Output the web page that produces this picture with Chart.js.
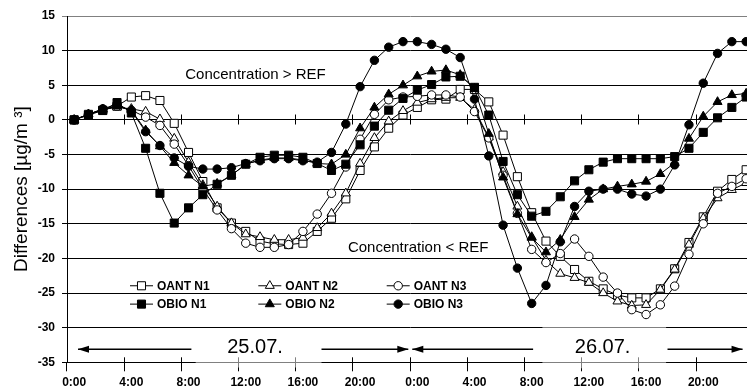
<!DOCTYPE html>
<html>
<head>
<meta charset="utf-8">
<script src="https://cdn.jsdelivr.net/npm/chart.js@4.4.1/dist/chart.umd.min.js"></script>
<style>
  html, body { margin: 0; padding: 0; background: #fff; overflow: hidden; width: 747px; height: 390px; }
  #wrap { width: 760px; height: 390px; }
</style>
</head>
<body>
<div id="wrap"><canvas id="diffChart" width="760" height="390"></canvas></div>
<script>
// hourly categories over two days (25.07. and 26.07.)
const hours = [
  '0:00', '1:00', '2:00', '3:00', '4:00', '5:00', '6:00', '7:00', '8:00', '9:00', '10:00', '11:00',
  '12:00', '13:00', '14:00', '15:00', '16:00', '17:00', '18:00', '19:00', '20:00', '21:00', '22:00', '23:00',
  '0:00', '1:00', '2:00', '3:00', '4:00', '5:00', '6:00', '7:00', '8:00', '9:00', '10:00', '11:00',
  '12:00', '13:00', '14:00', '15:00', '16:00', '17:00', '18:00', '19:00', '20:00', '21:00', '22:00', '23:00'
];

const oantN1 = [0, 0.8, 1.4, 2.0, 3.3, 3.5, 2.8, -0.5, -4.7, -8.9, -12.7, -14.9,
  -16.1, -17.5, -17.9, -18.0, -17.8, -16.1, -14.2, -11.4, -7.3, -3.9, -1.2, 0.7,
  1.8, 2.9, 3.0, 4.4, 4.4, 2.6, -2.2, -8.2, -13.4, -17.5, -19.7, -21.6,
  -23.3, -24.4, -25.3, -25.7, -25.7, -24.4, -21.5, -17.7, -14.0, -10.3, -8.6, -7.2];
const oantN2 = [0, 0.8, 1.5, 1.8, 1.6, 1.2, 0.1, -2.7, -6.1, -9.4, -12.5, -14.9,
  -16.5, -16.9, -17.3, -17.3, -17.0, -15.6, -13.5, -10.6, -6.3, -2.6, -0.2, 1.3,
  2.5, 3.0, 3.2, 3.2, 1.5, -2.5, -7.5, -12.5, -16.9, -20.3, -22.2, -22.8,
  -23.5, -25.0, -26.2, -26.8, -26.7, -24.5, -21.6, -18.0, -14.2, -11.3, -10.1, -9.1];
const oantN3 = [0, 0.8, 1.5, 2.0, 1.4, 0.4, -0.8, -3.5, -6.6, -10.0, -13.0, -15.7,
  -17.8, -18.4, -18.4, -18.0, -16.1, -13.6, -10.6, -6.8, -2.8, 0.8, 2.9, 3.3,
  3.4, 3.6, 3.6, 3.3, 1.2, -2.6, -8.0, -13.5, -18.7, -20.6, -19.3, -17.2,
  -19.7, -22.7, -25.0, -27.4, -28.1, -26.7, -24.0, -19.4, -15.0, -10.6, -9.6, -8.5];
const obioN1 = [0, 0.7, 1.35, 2.5, 1.0, -4.1, -10.6, -14.9, -12.7, -10.8, -9.3, -8.0,
  -6.4, -5.4, -5.1, -5.1, -5.4, -6.3, -7.3, -6.4, -3.6, -0.9, 1.4, 3.1,
  4.3, 5.1, 6.2, 6.3, 4.7, 0.7, -6.0, -10.8, -13.9, -13.2, -11.1, -8.8,
  -7.2, -6.1, -5.6, -5.6, -5.6, -5.6, -5.3, -4.1, -1.8, 0.3, 1.8, 3.3];
const obioN2 = [0, 0.8, 1.5, 2.0, 1.4, -1.5, -3.8, -6.2, -8.0, -9.6, -9.2, -8.0,
  -6.4, -5.8, -5.5, -5.5, -5.8, -6.3, -6.4, -5.0, -1.2, 1.8, 3.7, 5.0,
  6.3, 7.0, 7.2, 6.5, 4.5, -2.0, -8.3, -13.6, -17.0, -19.1, -17.3, -14.0,
  -11.5, -10.0, -9.6, -9.3, -8.9, -7.8, -6.2, -2.7, 0.5, 2.6, 3.6, 3.8];
const obioN3 = [0, 0.8, 1.6, 2.2, 1.3, -1.7, -3.7, -5.5, -6.7, -7.1, -7.1, -6.9,
  -6.3, -5.9, -5.6, -5.6, -5.9, -6.1, -4.7, -0.6, 4.8, 8.6, 10.5, 11.3,
  11.3, 10.9, 10.2, 9.0, 3.0, -5.2, -15.2, -21.4, -26.5, -23.9, -17.6, -12.5,
  -10.3, -10.0, -10.0, -10.7, -11.0, -10.0, -6.5, -0.7, 5.3, 9.6, 11.3, 11.3];

const seriesNames = ['OANT N1', 'OANT N2', 'OANT N3', 'OBIO N1', 'OBIO N2', 'OBIO N3'];
const seriesValues = [oantN1, oantN2, oantN3, obioN1, obioN2, obioN3];
const dayLabels = ['25.07.', '26.07.'];

const FONT = "'Liberation Sans', Arial, sans-serif";
Chart.defaults.font.family = FONT;

const styles = [
  { pointStyle: 'rect', radius: 5.7, fill: '#fff' },
  { pointStyle: 'triangle', radius: 5.2, fill: '#fff' },
  { pointStyle: 'circle', radius: 4.2, fill: '#fff' },
  { pointStyle: 'rect', radius: 5.7, fill: '#000' },
  { pointStyle: 'triangle', radius: 5.2, fill: '#000' },
  { pointStyle: 'circle', radius: 4.2, fill: '#000' }
];

const datasets = seriesNames.map((name, i) => ({
  label: name,
  data: seriesValues[i],
  borderColor: '#000',
  borderWidth: 1,
  tension: 0,
  fill: false,
  pointStyle: styles[i].pointStyle,
  pointRadius: styles[i].radius,
  pointBackgroundColor: styles[i].fill,
  pointBorderColor: '#000',
  pointBorderWidth: 1,
  order: 6 - i
}));

function drawMarker(ctx, st, x, y) {
  ctx.fillStyle = st.fill;
  ctx.strokeStyle = '#000';
  ctx.lineWidth = 1;
  if (Chart.helpers && Chart.helpers.drawPoint) {
    Chart.helpers.drawPoint(ctx, { pointStyle: st.pointStyle, radius: st.radius, rotation: 0, borderWidth: 1 }, x, y);
    return;
  }
  ctx.beginPath();
  if (st.pointStyle === 'rect') {
    const s = st.radius * Math.SQRT1_2;
    ctx.rect(x - s, y - s, 2 * s, 2 * s);
  } else if (st.pointStyle === 'triangle') {
    for (let k = 0; k < 3; k++) {
      const a = k * 2 * Math.PI / 3;
      ctx.lineTo(x + Math.sin(a) * st.radius, y - Math.cos(a) * st.radius);
    }
    ctx.closePath();
  } else {
    ctx.arc(x, y, st.radius, 0, 2 * Math.PI);
  }
  ctx.fill();
  ctx.stroke();
}

function arrow(ctx, x1, x2, y, headAtStart) {
  ctx.beginPath();
  ctx.moveTo(x1, y);
  ctx.lineTo(x2, y);
  ctx.stroke();
  const tip = headAtStart ? x1 : x2;
  const dir = headAtStart ? 1 : -1;
  ctx.beginPath();
  ctx.moveTo(tip, y);
  ctx.lineTo(tip + dir * 11, y - 3.5);
  ctx.lineTo(tip + dir * 11, y + 3.5);
  ctx.closePath();
  ctx.fill();
}

const annotations = {
  id: 'annotations',
  afterDraw(chart) {
    const { ctx, chartArea } = chart;
    const x = chart.scales.x;
    const y = chart.scales.y;
    const half = (x.getPixelForValue(1) - x.getPixelForValue(0)) / 2;
    const crisp = p => Math.round(p - 0.5) + 0.5;
    ctx.save();

    // small tick marks on the zero line and above the bottom axis
    ctx.strokeStyle = '#000';
    ctx.lineWidth = 1;
    const y0 = crisp(y.getPixelForValue(0));
    for (let i = 4; i < hours.length; i += 4) {
      const px = crisp(x.getPixelForValue(i) - half);
      ctx.beginPath();
      ctx.moveTo(px, y0 - 5);
      ctx.lineTo(px, y0 + 5);
      ctx.moveTo(px, chartArea.bottom - 5);
      ctx.lineTo(px, chartArea.bottom);
      ctx.stroke();
    }

    // faded boxes behind the day labels
    ctx.fillStyle = 'rgba(255,255,255,0.5)';
    const b1l = x.getPixelForValue(8.5), b1r = x.getPixelForValue(17.3);
    ctx.fillRect(b1l, y.getPixelForValue(-32.0), b1r - b1l, 26);
    const b2l = x.getPixelForValue(32.75), b2r = x.getPixelForValue(41.4);
    ctx.fillRect(b2l, y.getPixelForValue(-29.8), b2r - b2l, 42);

    // day arrows
    ctx.fillStyle = '#000';
    ctx.strokeStyle = '#000';
    ctx.lineWidth = 1.5;
    const ya = y.getPixelForValue(-33.1);
    arrow(ctx, x.getPixelForValue(0.27), x.getPixelForValue(8.2), ya, true);
    arrow(ctx, x.getPixelForValue(17.3), x.getPixelForValue(23.37), ya, false);
    arrow(ctx, x.getPixelForValue(23.65), x.getPixelForValue(32.1), ya, true);
    arrow(ctx, x.getPixelForValue(41.5), x.getPixelForValue(46.75), ya, false);

    ctx.textAlign = 'center';
    ctx.textBaseline = 'middle';
    ctx.font = '20px ' + FONT;
    ctx.fillText(dayLabels[0], x.getPixelForValue(12.65), y.getPixelForValue(-32.9));
    ctx.fillText(dayLabels[1], x.getPixelForValue(36.96), y.getPixelForValue(-32.9));

    ctx.font = '15px ' + FONT;
    ctx.fillText('Concentration > REF', x.getPixelForValue(12.68), y.getPixelForValue(6.5));
    ctx.fillText('Concentration < REF', x.getPixelForValue(24.06), y.getPixelForValue(-18.5));

    // legend inside the plot, two rows of three
    const colX = [63, 191.3, 319.7];
    const rowY = [y.getPixelForValue(-23.95), y.getPixelForValue(-26.6)];
    ctx.font = 'bold 12px ' + FONT;
    ctx.textAlign = 'left';
    chart.data.datasets.forEach((ds, i) => {
      const lx = chartArea.left + colX[i % 3];
      const ly = rowY[Math.floor(i / 3)];
      ctx.strokeStyle = '#000';
      ctx.lineWidth = 1;
      ctx.beginPath();
      ctx.moveTo(lx, ly);
      ctx.lineTo(lx + 23, ly);
      ctx.stroke();
      drawMarker(ctx, styles[i], lx + 11.5, ly);
      ctx.fillStyle = '#000';
      ctx.fillText(ds.label, lx + 27, ly + 0.5);
    });

    ctx.restore();
  }
};

const ctx = document.getElementById('diffChart').getContext('2d');
const chart = new Chart(ctx, {
  type: 'line',
  data: { labels: hours, datasets: datasets },
  options: {
    animation: false,
    responsive: false,
    devicePixelRatio: 1,
    layout: { padding: { top: 16, right: 3, left: 0, bottom: 0 } },
    plugins: {
      legend: { display: false },
      tooltip: { enabled: false }
    },
    scales: {
      x: {
        type: 'category',
        offset: true,
        grid: {
          offset: true,
          drawOnChartArea: false,
          drawTicks: true,
          tickLength: 9,
          lineWidth: 1,
          color: (c) => (c.index % 4 === 0 ? '#000' : 'rgba(0,0,0,0)')
        },
        border: { color: '#000', width: 1 },
        ticks: {
          autoSkip: false,
          maxRotation: 0,
          minRotation: 0,
          padding: 4,
          color: '#000',
          font: { size: 12, weight: 'bold' },
          callback: (v, i) => (i % 4 === 0 ? hours[i] : '')
        },
        afterFit: (s) => { s.height = 27.7; }
      },
      y: {
        min: -35,
        max: 15,
        ticks: {
          stepSize: 5,
          padding: 7,
          color: '#000',
          font: { size: 12, weight: 'bold' }
        },
        grid: {
          tickLength: 5,
          lineWidth: 1,
          color: (c) => (c.tick && c.tick.value === 15 ? '#808080' : '#000')
        },
        border: { color: '#000', width: 1 },
        title: {
          display: true,
          text: 'Differences [µg/m ³]',
          color: '#000',
          font: { size: 19 },
          padding: { top: 10, bottom: 0 }
        },
        afterFit: (s) => { s.width = 67; }
      }
    }
  },
  plugins: [annotations]
});
</script>
</body>
</html>
